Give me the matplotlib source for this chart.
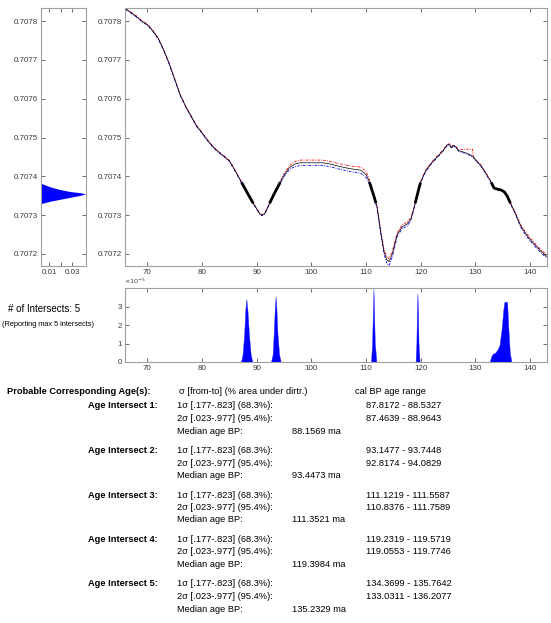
import numpy as np
import matplotlib
matplotlib.use('Agg')
import matplotlib.pyplot as plt

plt.rcParams['font.family'] = ['Liberation Sans', 'DejaVu Sans']

# calibration curve (age in ma, 87Sr/86Sr)
ages = [66.0, 67.0, 68.0, 69.0, 70.0, 71.0, 72.0, 73.0, 74.0, 75.0, 76.0, 77.0, 78.0, 79.0, 80.0,
        81.0, 82.0, 83.0, 84.0, 85.0, 86.0, 87.0, 88.0, 89.0, 90.0, 90.6, 91.0, 91.5, 92.0, 93.0,
        94.0, 95.0, 96.0, 97.0, 98.0, 100.0, 102.0, 103.0, 104.0, 105.0, 106.0, 107.0, 108.0, 109.0,
        110.0, 110.6, 111.2, 112.0, 112.7, 113.3, 113.8, 114.2, 114.8, 115.7, 116.6, 117.5, 118.2,
        118.8, 119.4, 120.0, 120.9, 122.0, 123.0, 124.0, 124.9, 125.3, 125.6, 126.0, 126.4, 127.0,
        128.0, 129.0, 129.5, 129.6, 130.0, 131.0, 132.0, 132.8, 133.4, 134.0, 134.7, 135.3, 135.8,
        136.5, 137.3, 138.3, 139.2, 140.1, 141.0, 142.0, 143.1]
sr = [0.707832, 0.707822, 0.707812, 0.707800, 0.707791, 0.707775, 0.707755, 0.707725, 0.707690,
      0.707650, 0.707610, 0.707580, 0.707555, 0.707530, 0.707512, 0.707493, 0.707476, 0.707463,
      0.707452, 0.707440, 0.707416, 0.707390, 0.707365, 0.707339, 0.707316, 0.707303, 0.707300,
      0.707305, 0.707320, 0.707350, 0.707377, 0.707403, 0.707423, 0.707432, 0.707435, 0.707435,
      0.707435, 0.707433, 0.707430, 0.707426, 0.707423, 0.707420, 0.707418, 0.707416, 0.707405,
      0.707386, 0.707360, 0.707322, 0.707255, 0.707205, 0.707185, 0.707180, 0.707200, 0.707250,
      0.707270, 0.707277, 0.707290, 0.707320, 0.707355, 0.707386, 0.707414, 0.707435, 0.707450,
      0.707465, 0.707482, 0.707482, 0.707474, 0.707480, 0.707476, 0.707466, 0.707462, 0.707456,
      0.707452, 0.707451, 0.707443, 0.707428, 0.707406, 0.707387, 0.707370, 0.707367, 0.707365,
      0.707360, 0.707350, 0.707328, 0.707305, 0.707272, 0.707252, 0.707236, 0.707222, 0.707207,
      0.707193]
# upper / lower envelope offsets (x1e-6)
err_hi = [1.5]*29 + [2, 2.5, 3.5, 5, 6.5, 7, 7, 7, 7, 7, 7, 7, 7, 7.5, 8, 8, 6, 4, 3, 4, 6, 8, 8,
          7, 5, 5, 5, 4, 3, 2, 2, 2, 2, 2, 1.5, 1.5, 1.5, 1.5, 1.5, 1.5, 3, 8, 14, 18, 1.5, 1.5,
          1.5, 1.5, 1.5, 1.5, 1.5, 1.5, 1.5, 1.5, 1.5, 2, 3, 3.5, 4, 4, 4, 4]
err_lo = [1.5]*29 + [2, 2.5, 3.5, 5, 6.5, 7, 7, 7, 7, 7, 7, 7, 7, 7.5, 8, 8, 6, 4, 3, 4, 6, 9, 10,
          8, 5, 5, 5, 4, 3, 2, 2, 2, 2, 2, 1.5, 1.5, 1.5, 1.5, 1.5, 1.5, 2, 2, 2, 2, 1.5, 1.5,
          1.5, 1.5, 1.5, 1.5, 1.5, 1.5, 1.5, 1.5, 1.5, 2, 3, 3.5, 4, 4, 4, 4]

# measured sample distribution (left panel)
dist_val = [0.707330, 0.707336, 0.707341, 0.707346, 0.707351, 0.707355,
            0.707358, 0.707361, 0.707366, 0.707373, 0.707382]
dist_pdf = [0.0031, 0.0109, 0.0194, 0.0280, 0.0366, 0.0414,
            0.0366, 0.0280, 0.0194, 0.0109, 0.0031]
meas_lo, meas_hi = 0.70733, 0.707385

# age probability (x1e-5)
peak_x = [[87.1, 87.4, 87.7, 87.9, 88.1, 88.3, 88.6, 88.9, 89.2],
          [92.6, 92.9, 93.1, 93.3, 93.45, 93.6, 93.8, 94.1, 94.4],
          [110.9, 111.1, 111.25, 111.35, 111.45, 111.6, 111.9],
          [119.05, 119.2, 119.3, 119.4, 119.5, 119.6, 119.8],
          [132.6, 132.9, 133.2, 133.6, 134.0, 134.4, 134.8, 135.1, 135.3, 135.8, 136.0, 136.3, 136.6]]
peak_h = [[0, 0.4, 1.5, 2.8, 3.4, 2.8, 1.4, 0.4, 0],
          [0, 0.4, 1.5, 2.9, 3.55, 2.9, 1.5, 0.4, 0],
          [0, 1.0, 2.8, 3.95, 2.8, 1.0, 0],
          [0, 1.0, 2.7, 3.7, 2.7, 1.0, 0],
          [0, 0.3, 0.45, 0.5, 0.65, 0.9, 1.8, 2.8, 3.25, 3.25, 2.0, 0.5, 0]]

one_sig = ['87.8172 - 88.5327', '93.1477 - 93.7448', '111.1219 - 111.5587',
           '119.2319 - 119.5719', '134.3699 - 135.7642']
two_sig = ['87.4639 - 88.9643', '92.8174 - 94.0829', '110.8376 - 111.7589',
           '119.0553 - 119.7746', '133.0311 - 136.2077']
medians = ['88.1569', '93.4473', '111.3521', '119.3984', '135.2329']

W, H = 551, 623
fig = plt.figure(figsize=(W/100, H/100), dpi=100)

def px(x0, y0, x1, y1):
    return [x0/W, 1 - y1/H, (x1-x0)/W, (y1-y0)/H]

def style(ax):
    for s in ax.spines.values():
        s.set_color('#a0a0a0')
        s.set_linewidth(0.8)
    ax.tick_params(direction='in', length=3, width=0.6, color='#555555',
                   labelsize=5.8, labelcolor='#3a3a3a', top=True, right=True, pad=2)

ylim = (0.707169, 0.707834)
xlim = (65.9, 143.1)
yt = [0.7072, 0.7073, 0.7074, 0.7075, 0.7076, 0.7077, 0.7078]

# left panel
ax0 = fig.add_axes(px(41, 8, 86, 266))
ax0.fill_betweenx(dist_val, 0, dist_pdf, color='#0000ff', lw=0)
ax0.set_xlim(0.003, 0.0417)
ax0.set_ylim(ylim)
ax0.set_yticks(yt)
ax0.set_yticklabels(['%.4f' % v for v in yt])
ax0.set_xticks([0.01, 0.02, 0.03])
ax0.set_xticklabels(['0.01', '', '0.03'])
style(ax0)

# main panel
ax1 = fig.add_axes(px(125, 8, 547, 266))
a = np.array(ages)
v = np.array(sr)
ax1.plot(a, v + np.array(err_hi)*1e-6, color='#ff0000', lw=0.6, ls=(0, (3, 1.5, 1, 1.5)))
ax1.plot(a, v - np.array(err_lo)*1e-6, color='#0000ff', lw=0.6, ls=(0, (3, 1.5, 1, 1.5)))
ax1.plot(a, v, color='k', lw=0.5)
xf = np.linspace(a[0], a[-1], 3000)
vf = np.interp(xf, a, v)
vb = np.where((vf >= meas_lo) & (vf <= meas_hi), vf, np.nan)
ax1.plot(xf, vb, color='k', lw=2.0, solid_capstyle='butt')
ax1.set_xlim(xlim)
ax1.set_ylim(ylim)
ax1.set_yticks(yt)
ax1.set_yticklabels(['%.4f' % v for v in yt])
ax1.set_xticks(range(70, 141, 10))
style(ax1)

# age probability panel
ax2 = fig.add_axes(px(125, 288, 547, 362))
for xs, hs in zip(peak_x, peak_h):
    ax2.fill_between(xs, 0, hs, color='#0000ff', lw=0.3, edgecolor='#3030ff')
ax2.set_xlim(xlim)
ax2.set_ylim(0, 4)
ax2.set_yticks([0, 1, 2, 3])
ax2.set_xticks(range(70, 141, 10))
style(ax2)
ax2.text(-0.003, 1.03, r'$\times10^{-5}$', transform=ax2.transAxes, fontsize=4.6,
         color='#3a3a3a', va='bottom', ha='left')

def ft(x, y, s, **kw):
    fig.text(x/W, 1 - y/H, s, va='center', **kw)

ft(8, 309, '# of Intersects: 5', fontsize=7)
ft(2, 325, '(Reporting max 5 intersects)', fontsize=5.3)

fs = 6.7
ft(7, 392, 'Probable Corresponding Age(s):', fontsize=fs, fontweight='bold')
ft(179, 392, 'σ [from-to] (% area under dirtr.)', fontsize=fs)
ft(355, 392, 'cal BP age range', fontsize=fs)
for i in range(5):
    y0 = 406 + 44.5*i
    ft(158, y0, 'Age Intersect %d:' % (i+1), fontsize=fs, fontweight='bold', ha='right')
    ft(177, y0, '1σ [.177-.823] (68.3%):', fontsize=fs)
    ft(177, y0 + 12.5, '2σ [.023-.977] (95.4%):', fontsize=fs)
    ft(177, y0 + 25, 'Median age BP:', fontsize=fs)
    ft(292, y0 + 25, medians[i] + ' ma', fontsize=fs)
    ft(366, y0, one_sig[i], fontsize=fs)
    ft(366, y0 + 12.5, two_sig[i], fontsize=fs)

fig.savefig('out.png', dpi=100)
